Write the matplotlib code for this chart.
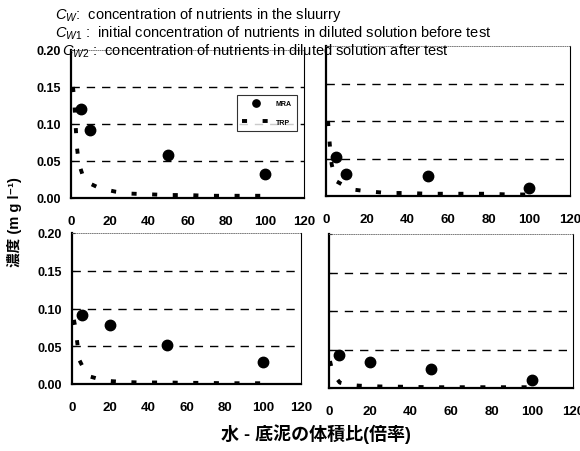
import numpy as np
import matplotlib.pyplot as plt

plt.rcParams['font.family'] = ['Liberation Sans', 'Noto Sans CJK JP', 'DejaVu Sans']
plt.rcParams['mathtext.fontset'] = 'custom'
plt.rcParams['mathtext.it'] = 'Liberation Sans:italic'
plt.rcParams['mathtext.rm'] = 'Liberation Sans'

# MRA points (measured)
mra_x = [[5, 10, 50, 100], [5, 10, 50, 100], [5, 20, 50, 100], [5, 20, 50, 100]]
mra_y = [[0.120, 0.092, 0.058, 0.032],
         [0.052, 0.029, 0.027, 0.011],
         [0.092, 0.078, 0.052, 0.029],
         [0.043, 0.034, 0.025, 0.010]]

# TRP curves
trp_x = [[1, 1.5, 2, 3, 4, 7, 15, 23, 30, 40, 50, 60, 70, 80, 90, 100],
         [1, 1.3, 2, 2.8, 4.9, 12, 20, 30, 40, 50, 60, 70, 80, 90, 100],
         [1, 1.6, 2.8, 3.8, 8, 17, 25, 35, 50, 60, 70, 80, 90, 100],
         [0.5, 1.2, 3, 5.3, 10, 15, 25, 40, 50, 60, 70, 80, 90, 100]]
trp_y = [[0.15, 0.138, 0.116, 0.07, 0.047, 0.023, 0.013, 0.0085, 0.006, 0.005, 0.004, 0.004, 0.003, 0.003, 0.003, 0.003],
         [0.10, 0.088, 0.064, 0.042, 0.020, 0.009, 0.0064, 0.004, 0.004, 0.003, 0.003, 0.003, 0.003, 0.002, 0.002],
         [0.085, 0.077, 0.054, 0.032, 0.011, 0.0044, 0.003, 0.002, 0.002, 0.0015, 0.0015, 0.001, 0.001, 0.001],
         [0.035, 0.027, 0.015, 0.007, 0.004, 0.003, 0.002, 0.0015, 0.001, 0.001, 0.001, 0.001, 0.001, 0.001]]

xticks = [0, 20, 40, 60, 80, 100, 120]
yticks = [0.00, 0.05, 0.10, 0.15, 0.20]
ytick_labels = ['0.00', '0.05', '0.10', '0.15', '0.20']

W, H = 580, 452
fig = plt.figure(figsize=(5.8, 4.52), dpi=100)

# pixel boxes: x0, x1, ytop, ybottom
boxes = [(71, 304, 51, 199), (326, 570, 47, 197), (72, 301, 234, 385), (329, 573, 235, 389)]

for i, (x0, x1, yt, yb) in enumerate(boxes):
    ax = fig.add_axes([x0 / W, (H - yb) / H, (x1 - x0) / W, (yb - yt) / H])
    ax.set_xlim(0, 120)
    ax.set_ylim(0, 0.20)
    for g in [0.05, 0.10, 0.15]:
        ax.axhline(g, color='black', lw=1.0, ls=(0, (6, 5)), zorder=1)
    ax.plot(trp_x[i], trp_y[i], color='black', lw=2.8, ls=(0, (1.3, 4)),
            label='TRP', zorder=2)
    ax.plot(mra_x[i], mra_y[i], 'o', color='black', ms=7.5, label='MRA', zorder=3)
    ax.set_xticks(xticks)
    ax.set_yticks(yticks)
    ax.set_yticklabels(ytick_labels if i in (0, 2) else [])
    ax.tick_params(axis='x', length=0, pad=12, labelsize=9.5)
    ax.tick_params(axis='y', length=2, direction='in', pad=7, labelsize=9)
    for lab in ax.get_xticklabels() + ax.get_yticklabels():
        lab.set_fontweight('bold')
    ax.spines['left'].set_linewidth(1.6)
    ax.spines['bottom'].set_linewidth(1.6)
    ax.spines['right'].set_linewidth(0.8)
    ax.spines['top'].set_linewidth(0.6)
    ax.spines['top'].set_linestyle(':')
    ax.spines['top'].set_color('0.4')
    if i == 0:
        h, l = ax.get_legend_handles_labels()
        leg = ax.legend(h[::-1], l[::-1], loc='upper right', bbox_to_anchor=(0.985, 0.72),
                        fontsize=5, frameon=True, fancybox=False, edgecolor='black',
                        handlelength=4, borderpad=0.8, labelspacing=1.6, markerscale=0.7)
        leg.get_frame().set_linewidth(0.8)
        for t in leg.get_texts():
            t.set_fontweight('bold')

fig.text(55 / W, 1 - 15 / H, r'$C_W$:  concentration of nutrients in the sluurry',
         fontsize=10.5, va='center')
fig.text(55 / W, 1 - 33 / H, r'$C_{W1}$ :  initial concentration of nutrients in diluted solution before test',
         fontsize=10.5, va='center')
fig.text(62 / W, 1 - 51 / H, r'$C_{W2}$ :  concentration of nutrients in diluted solution after test',
         fontsize=10.5, va='center')

fig.text(15 / W, 1 - 222 / H, '濃度 (m g l⁻¹)', rotation=90, fontsize=10.5,
         fontweight='bold', va='center', ha='center')
fig.text(316 / W, 1 - 434 / H, '水 - 底泥の体積比(倍率)', fontsize=13,
         fontweight='bold', va='center', ha='center')

fig.savefig('out.png', dpi=100)
